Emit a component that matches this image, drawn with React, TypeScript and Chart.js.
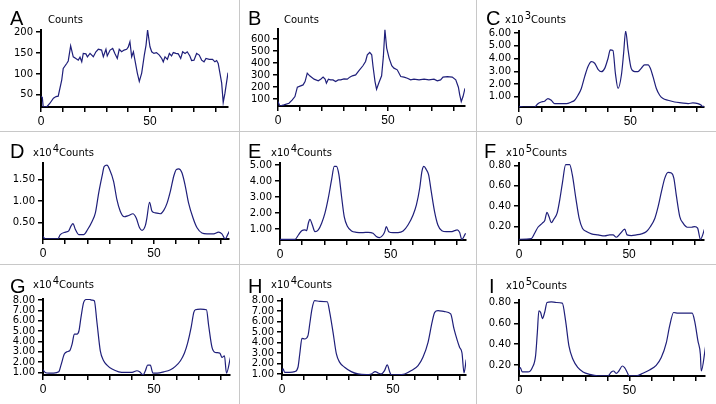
import React, { useEffect, useRef } from 'react';
import { Chart, registerables } from 'chart.js';

Chart.register(...registerables);

// ---- data (x = channel, y = counts in the panel's unit) ----
const panelA: number[][] = [[0,46],[0.6,44],[1,22],[2.6,21],[4.1,30],[5.7,42],[6.9,46],[7.9,47],[9.5,85],[10.2,113],[11.8,125],[12.5,131],[13.6,167],[14.8,141],[16,137],[17.1,133],[17.9,140],[18.7,129],[19.4,149],[20.6,148],[21.3,141],[22.5,149],[24,141],[25.2,153],[26.3,159],[27.8,157],[28.6,141],[29.8,159],[30.4,143],[31.7,157],[32.9,161],[33.9,149],[35,137],[35.9,159],[37,153],[38.1,157],[39.3,159],[40,164],[40.8,177],[41.6,141],[42.4,153],[43.1,133],[44.2,102],[45.1,82],[46.2,102],[47.4,145],[48.2,169],[48.9,205],[50,165],[50.8,153],[51.8,149],[53,151],[54.3,145],[55.4,137],[56.1,129],[56.9,141],[58,135],[58.9,149],[59.9,143],[60.7,151],[61.9,149],[63,148],[64.1,137],[65,153],[66.1,149],[67.1,153],[68.3,143],[69.1,132],[70.2,133],[71.4,149],[72.6,145],[73.7,133],[74.8,129],[75.7,137],[77.2,135],[78.7,135],[79.8,129],[80.6,132],[81.3,125],[82.1,102],[82.9,78],[83.6,32],[84.4,54],[85.8,103]];
const panelB: number[][] = [[0,78],[0.8,41],[2.7,50],[5,64],[6.5,92],[7.7,120],[8.8,198],[10.3,209],[11.4,217],[12.3,245],[13.3,315],[14.4,293],[16.4,265],[18.3,251],[19.4,265],[20.5,282],[21.4,265],[22,231],[22.9,265],[23.9,259],[25,259],[26.2,245],[27.4,259],[28.5,259],[30,268],[31.5,265],[32.6,282],[33.8,293],[35.3,301],[36.8,337],[38.6,377],[39.8,413],[40.6,469],[41.7,488],[42.6,469],[43.2,371],[44.1,245],[44.8,181],[45.9,237],[47.1,293],[47.9,455],[48.6,678],[49.4,525],[50.5,441],[51.7,377],[52.7,357],[54.2,343],[55.8,287],[57.3,282],[58.8,273],[60.3,259],[61.8,265],[64.1,259],[66.4,265],[68.6,259],[70.9,265],[72.4,251],[73.9,259],[75,282],[77,287],[79.2,282],[80.8,259],[82,198],[82.6,134],[83.3,78],[84.1,120],[85,189]];
const panelC: number[][] = [[0,0.26],[1.8,0.21],[7,0.21],[8.5,0.47],[10,0.6],[11.5,0.66],[13,0.87],[14.5,0.74],[16,0.47],[18.3,0.47],[21.3,0.47],[23.5,0.6],[25,0.74],[26.5,1.13],[28,1.66],[29.5,2.58],[31,3.37],[32.5,3.76],[34,3.63],[35.5,3.16],[37,2.97],[38.5,3.23],[40,4.02],[41,4.68],[42.2,4.63],[43.3,2.84],[44.5,1.66],[46,2.71],[47,4.42],[47.9,6.15],[49,4.68],[50.4,3.23],[52,2.97],[53.4,2.97],[54.9,3.23],[56.4,3.5],[58,3.5],[59,3.23],[60.2,2.58],[61.7,1.66],[63.2,1.13],[64.7,0.87],[66.9,0.74],[69.9,0.6],[72.9,0.53],[76,0.47],[78.1,0.53],[80.4,0.47],[81.9,0.34],[82.6,0.21],[83.4,0.34]];
const panelD: number[][] = [[0,0.17],[1,0.11],[6.6,0.11],[7.8,0.21],[10.1,0.27],[11.6,0.3],[12.6,0.41],[13.5,0.47],[14.6,0.33],[16.1,0.21],[18.3,0.21],[20.1,0.33],[22.1,0.52],[23.6,0.72],[25.1,1.19],[26.6,1.58],[27.6,1.81],[28.8,1.84],[30,1.74],[31.8,1.46],[33.3,1.03],[34.8,0.76],[36.6,0.63],[38.6,0.66],[40.5,0.7],[42,0.6],[43.5,0.37],[44.6,0.31],[46.1,0.42],[46.8,0.6],[48,0.97],[49.1,0.76],[50.6,0.72],[52.9,0.7],[54.4,0.78],[55.9,0.95],[57.4,1.23],[58.9,1.58],[60.1,1.74],[61.1,1.75],[62.6,1.66],[64.1,1.35],[65.6,0.95],[67.6,0.6],[69.4,0.37],[71.6,0.25],[73.9,0.23],[76.9,0.23],[79.1,0.27],[80.6,0.23],[82.1,0.11],[83.2,0.21],[84.1,0.3]];
const panelE: number[][] = [[0,0.35],[6.8,0.35],[8.3,0.62],[9.8,0.89],[11.3,0.94],[12,0.89],[12.8,1.36],[13.5,1.61],[14.6,1.25],[15.8,0.83],[17.3,0.94],[18.8,1.36],[20.3,1.99],[21.8,2.93],[23.3,4.09],[24.5,4.93],[25.5,4.93],[26.6,4.41],[27.8,3.04],[29,1.78],[30.5,1.15],[32.3,0.87],[34.5,0.79],[37.5,0.77],[39.8,0.79],[42,0.73],[43.5,0.52],[45,0.45],[46.5,0.62],[47.3,0.83],[48,1.15],[49.1,0.83],[51,0.77],[53.3,0.77],[55.6,0.87],[57.8,1.25],[60.1,1.88],[61.6,2.51],[63.1,3.57],[64.1,4.62],[65,4.93],[66.1,4.72],[67.1,4.41],[68.3,3.36],[69.8,2.09],[71.3,1.25],[73.1,0.89],[75.1,0.83],[77.3,0.83],[78.8,0.89],[80,0.94],[81.1,0.79],[82.1,0.35],[83.8,0.73]];
const panelF: number[][] = [[0,0.075],[5.6,0.082],[7.1,0.134],[8.6,0.193],[10.6,0.233],[11.7,0.26],[12.7,0.338],[13.6,0.298],[14.7,0.239],[15.8,0.272],[17.3,0.331],[18.5,0.462],[19.7,0.626],[21.2,0.807],[23,0.807],[24.2,0.708],[25.8,0.479],[27.3,0.282],[28.8,0.184],[30.6,0.151],[32.9,0.128],[35.9,0.118],[38.9,0.108],[41.2,0.118],[42.7,0.118],[44.2,0.095],[46.1,0.134],[48,0.174],[49.1,0.118],[51.1,0.111],[53.3,0.118],[55.6,0.128],[57.9,0.151],[59.7,0.2],[61.7,0.282],[63.2,0.397],[64.7,0.544],[66.2,0.675],[67.7,0.731],[69.2,0.725],[70.3,0.675],[71.5,0.495],[73,0.298],[74.5,0.233],[76.4,0.193],[78.3,0.193],[79.8,0.2],[81.1,0.184],[82.4,0.075],[84.4,0.184]];
const panelG: number[][] = [[0,1.26],[1,1.0],[2.6,0.94],[4.8,0.94],[7.1,1.06],[8.1,1.71],[9.6,2.77],[10.8,3.0],[12,3.09],[13.1,3.74],[14.1,4.71],[15.3,4.71],[16.2,5.03],[17.1,6.32],[18.3,7.77],[19.5,8.05],[21,8.05],[22.1,7.99],[23.1,7.93],[24.3,5.83],[25.8,3.09],[27.3,2.13],[28.8,1.71],[31.1,1.32],[34.1,1.06],[37.1,1.0],[40.1,1.0],[42.3,1.16],[43.5,1.06],[45,0.76],[46.1,1.16],[47.1,1.71],[48.3,1.71],[49.5,0.94],[51.4,0.94],[54.4,1.06],[57.4,1.26],[59.6,1.58],[61.9,2.13],[63.7,2.87],[65.2,3.9],[66.7,5.35],[67.9,6.8],[68.6,7.06],[70.9,7.12],[73.6,7.06],[74.6,5.51],[76.1,3.42],[77.6,2.93],[79.6,2.87],[80.6,2.45],[81.7,2.61],[82.6,0.94],[84.4,2.45]];
const panelH: number[][] = [[0,1.22],[0.5,1.48],[1.2,1.16],[3.5,1.16],[5.7,1.22],[7.2,1.64],[8,2.91],[9,4.4],[10.2,4.34],[11.7,4.66],[12.5,5.77],[13.5,7.2],[14.7,8.0],[17,7.94],[20.4,7.9],[21.5,6.89],[23,4.98],[24.5,2.91],[26,2.11],[28.2,1.64],[31.2,1.22],[34.2,1.0],[38,0.94],[40.2,1.0],[42,1.22],[43.2,1.1],[44.7,1.0],[46.2,1.32],[47.4,1.86],[48.5,1.22],[49.2,0.92],[52.3,0.92],[55.3,1.0],[58.3,1.32],[61.3,1.8],[63.5,2.59],[65.8,4.02],[67.6,5.93],[68.8,6.89],[70.3,7.05],[73.3,6.95],[76,6.73],[77.5,5.3],[79,4.18],[80,3.55],[81.1,3.0],[82,1.1],[83,2.37]];
const panelI: number[][] = [[0,0.152],[0.6,0.174],[1.5,0.133],[4.1,0.133],[6,0.174],[7.5,0.287],[8.3,0.511],[9,0.72],[9.8,0.704],[10.6,0.646],[11.6,0.704],[12.7,0.8],[14.6,0.806],[16.9,0.8],[19.6,0.794],[21.1,0.623],[22.6,0.383],[24.4,0.255],[26.7,0.174],[29,0.133],[32,0.11],[35.7,0.096],[40.3,0.096],[41.8,0.133],[42.8,0.142],[44,0.12],[45.2,0.142],[46.8,0.19],[47.8,0.174],[48.9,0.133],[49.8,0.096],[53.1,0.096],[56.1,0.12],[59.1,0.152],[62.1,0.197],[64.4,0.271],[66.7,0.415],[68.2,0.575],[70,0.704],[72,0.697],[75,0.697],[78.4,0.697],[79.5,0.623],[81,0.431],[82.1,0.303],[82.5,0.142],[84.5,0.383]];

const letters = ['A', 'B', 'C', 'D', 'E', 'F', 'G', 'H', 'I'];
const exponents = ['', '', '3', '4', '4', '5', '4', '4', '5'];
const yMins = [21, 41, 0.21, 0.108, 0.306, 0.068, 0.75, 0.9, 0.094];
const yMaxs = [205, 684, 6.15, 1.89, 5.14, 0.823, 8.1, 8.16, 0.824];
const ySteps = [50, 100, 1, 0.5, 1, 0.2, 1, 1, 0.2];
const yDecimals = [0, 0, 2, 2, 2, 2, 2, 2, 2];
const xMaxs = [85.8, 85, 83.1, 83.8, 84, 84, 84.2, 82.9, 84.2];
const xLabelled = [0, 50];
const smoothPanels = [false, false, true, true, true, true, true, true, true];
const seriesList = [panelA, panelB, panelC, panelD, panelE, panelF, panelG, panelH, panelI];

// ---- layout (absolute pixel geometry) ----
const COL_X = [0, 240, 477];
const COL_W = [239, 236, 239];
const ROW_Y = [0, 132, 265];
const ROW_H = [131, 132, 139];
// [col, row, axisLeft, axisRight, axisTop, axisBottom, letterX, letterY, labelX, labelY]
const GEOM = [
  [0, 0, 41, 228, 30, 107, 10, 25, 48, 23],
  [1, 0, 278, 465, 29, 106, 248, 25, 284, 23],
  [2, 0, 519, 704, 31, 107, 486, 25, 505, 23],
  [0, 1, 43, 229, 163, 239, 10, 158, 33, 156],
  [1, 1, 280, 466, 163, 240, 248, 158, 271, 156],
  [2, 1, 519, 704, 163, 240, 484, 158, 506, 156],
  [0, 2, 43, 230, 299, 375, 10, 293, 33, 288],
  [1, 2, 282, 466, 299, 375, 248, 293, 271, 288],
  [2, 2, 519, 705, 300, 376, 489, 293, 506, 289],
];

const LINE_COLOR = '#1f1f7a';
const SEP_COLOR = '#c8c8c8';

const titlePlugin = {
  id: 'panelTitle',
  afterDraw(chart: any, _args: any, opts: any) {
    const ctx = chart.ctx;
    ctx.save();
    ctx.fillStyle = '#000';
    ctx.textBaseline = 'alphabetic';
    ctx.textAlign = 'left';
    ctx.font = '20px "Liberation Sans", Arial, sans-serif';
    ctx.fillText(opts.letter, opts.lx, opts.ly);
    ctx.font = '10px "DejaVu Sans", Verdana, sans-serif';
    let x = opts.ux;
    if (opts.exp) {
      ctx.fillText('x10', x, opts.uy);
      x += ctx.measureText('x10').width + 1;
      ctx.fillText(opts.exp, x, opts.uy - 4);
      x += ctx.measureText(opts.exp).width;
    }
    ctx.fillText('Counts', x, opts.uy);
    ctx.restore();
  },
};

function Panel({ idx }: { idx: number }) {
  const ref = useRef<HTMLCanvasElement>(null);
  const g = GEOM[idx];
  const col = g[0], row = g[1];
  const cx = COL_X[col], cy = ROW_Y[row], w = COL_W[col], h = ROW_H[row];

  useEffect(() => {
    if (!ref.current) return;
    const [, , L, R, T, B, lx, ly, ux, uy] = g;
    const dec = yDecimals[idx];
    const chart = new Chart(ref.current, {
      type: 'line',
      data: {
        datasets: [
          {
            data: seriesList[idx].map(([x, y]) => ({ x, y })),
            borderColor: LINE_COLOR,
            borderWidth: 1.2,
            pointRadius: 0,
            tension: 0,
            cubicInterpolationMode: smoothPanels[idx] ? 'monotone' : 'default',
            fill: false,
          },
        ],
      },
      options: {
        responsive: false,
        animation: false,
        events: [],
        layout: { padding: { left: 0, top: T - cy, right: cx + w - R, bottom: 0 } },
        plugins: {
          legend: { display: false },
          tooltip: { enabled: false },
          panelTitle: { letter: letters[idx], exp: exponents[idx], lx: lx - cx, ly: ly - cy, ux: ux - cx, uy: uy - cy },
        } as any,
        scales: {
          x: {
            type: 'linear',
            min: 0,
            max: xMaxs[idx],
            afterFit: (s: any) => { s.height = cy + h - B; },
            border: { display: true, color: '#000', width: 2 },
            grid: { drawOnChartArea: false, drawTicks: true, tickLength: 5, color: '#000', lineWidth: 1.5 },
            ticks: {
              stepSize: 10,
              includeBounds: false,
              autoSkip: false,
              maxRotation: 0,
              padding: 2,
              color: '#000',
              font: { family: '"Liberation Sans Narrow", "Liberation Sans", sans-serif', size: 12 },
              callback: (v: any) => (xLabelled.includes(Number(v)) ? String(v) : ''),
            },
          },
          y: {
            type: 'linear',
            min: yMins[idx],
            max: yMaxs[idx],
            afterFit: (s: any) => { s.width = L - cx; },
            border: { display: true, color: '#000', width: 2 },
            grid: { drawOnChartArea: false, drawTicks: true, tickLength: 5, color: '#000', lineWidth: 1.5 },
            ticks: {
              stepSize: ySteps[idx],
              includeBounds: false,
              autoSkip: false,
              padding: 3,
              color: '#000',
              font: { family: '"DejaVu Sans", Verdana, sans-serif', size: 10 },
              callback: (v: any) => Number(v).toFixed(dec),
            },
          },
        },
      },
      plugins: [titlePlugin as any],
    });
    return () => chart.destroy();
  }, []);

  return (
    <canvas
      ref={ref}
      width={w}
      height={h}
      style={{ position: 'absolute', left: cx, top: cy, width: w, height: h }}
    />
  );
}

export default function App() {
  return (
    <div style={{ position: 'fixed', left: 0, top: 0, width: 716, height: 404, background: '#fff', overflow: 'hidden' }}>
      {GEOM.map((_, i) => (
        <Panel key={i} idx={i} />
      ))}
      <div style={{ position: 'absolute', left: 239, top: 0, width: 1, height: 404, background: SEP_COLOR }} />
      <div style={{ position: 'absolute', left: 476, top: 0, width: 1, height: 404, background: SEP_COLOR }} />
      <div style={{ position: 'absolute', left: 0, top: 131, width: 716, height: 1, background: SEP_COLOR }} />
      <div style={{ position: 'absolute', left: 0, top: 264, width: 716, height: 1, background: SEP_COLOR }} />
    </div>
  );
}
